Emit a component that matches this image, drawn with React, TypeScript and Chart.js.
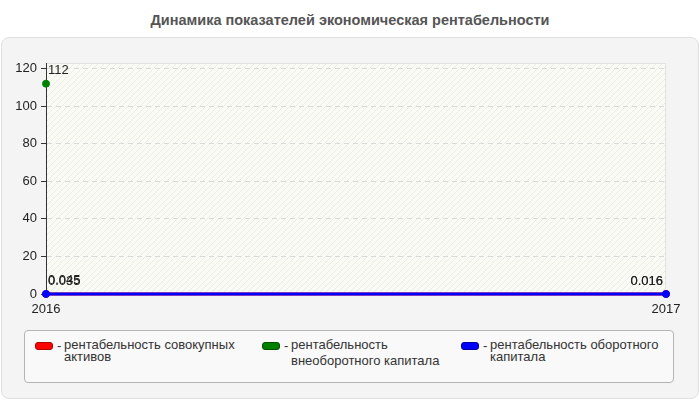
import React, { useEffect, useRef } from "react";
import { Chart, registerables, Plugin } from "chart.js";

Chart.register(...registerables);

// chart values
const years = ["2016", "2017"];
const totalAssets = [0.035, 0.016];
const fixedCapital = [112, null];
const workingCapital = [0.045, 0.016];
const yTicks = [0, 20, 40, 60, 80, 100, 120];

const legendItems = [
  { color: "#ff0000", border: "#b00000", lines: ["рентабельность совокупных", "активов"], left: 35, gap: 12 },
  { color: "#008000", border: "#005000", lines: ["рентабельность", "внеоборотного капитала"], left: 262, gap: 16 },
  { color: "#0000ff", border: "#0000a0", lines: ["рентабельность оборотного", "капитала"], left: 461, gap: 12 },
];

const FONT = "'Liberation Sans', Arial, sans-serif";

// hatched plot background
const plotBackground: Plugin = {
  id: "plotBackground",
  beforeDraw(chart) {
    const { ctx, chartArea: a } = chart;
    ctx.save();
    ctx.fillStyle = "#fbfbf6";
    ctx.fillRect(a.left, a.top, a.right - a.left, a.bottom - a.top);
    const tile = document.createElement("canvas");
    tile.width = 6;
    tile.height = 6;
    const t = tile.getContext("2d");
    if (t) {
      t.strokeStyle = "rgba(0,0,0,0.06)";
      t.lineWidth = 1;
      t.beginPath();
      t.moveTo(0, 6);
      t.lineTo(6, 0);
      t.moveTo(-1, 1);
      t.lineTo(1, -1);
      t.moveTo(5, 7);
      t.lineTo(7, 5);
      t.stroke();
      const pattern = ctx.createPattern(tile, "repeat");
      if (pattern) {
        ctx.fillStyle = pattern;
        ctx.fillRect(a.left, a.top, a.right - a.left, a.bottom - a.top);
      }
    }
    ctx.strokeStyle = "#e2e2e2";
    ctx.lineWidth = 1;
    ctx.strokeRect(a.left + 0.5, a.top + 0.5, a.right - a.left - 1, a.bottom - a.top);
    ctx.restore();
  },
};

// value labels next to each point
const pointLabels: Plugin = {
  id: "pointLabels",
  afterDatasetsDraw(chart) {
    const { ctx } = chart;
    ctx.save();
    ctx.font = `13px ${FONT}`;
    ctx.fillStyle = "#222";
    ctx.textBaseline = "middle";
    chart.data.datasets.forEach((ds, di) => {
      const meta = chart.getDatasetMeta(di);
      meta.data.forEach((pt, i) => {
        const v = ds.data[i] as number | null;
        if (v === null || v === undefined) return;
        const last = i === meta.data.length - 1;
        ctx.textAlign = last ? "right" : "left";
        ctx.fillText(String(v), pt.x + (last ? -3 : 2), pt.y - 13);
      });
    });
    ctx.restore();
  },
};

const App: React.FC = () => {
  const canvasRef = useRef<HTMLCanvasElement>(null);
  const chartRef = useRef<Chart | null>(null);

  useEffect(() => {
    document.body.style.margin = "0";
    if (!canvasRef.current) return;
    if (chartRef.current) chartRef.current.destroy();

    const line = (label: string, data: (number | null)[], color: string, order: number) => ({
      label,
      data,
      borderColor: color,
      backgroundColor: color,
      borderWidth: 3,
      pointRadius: 3.5,
      pointBorderWidth: 1,
      clip: false as const,
      order,
    });

    chartRef.current = new Chart(canvasRef.current, {
      type: "line",
      data: {
        labels: years,
        datasets: [
          line("рентабельность совокупных активов", totalAssets, "#ff0000", 3),
          line("рентабельность внеоборотного капитала", fixedCapital, "#008000", 2),
          line("рентабельность оборотного капитала", workingCapital, "#0000ff", 1),
        ],
      },
      options: {
        responsive: false,
        animation: false,
        layout: { padding: { top: 63, right: 34, left: 0, bottom: 0 } },
        plugins: {
          legend: { display: false },
          tooltip: { enabled: false },
        },
        scales: {
          x: {
            offset: false,
            grid: { display: false, drawOnChartArea: false, tickLength: 5, tickColor: "#333" },
            border: { display: false },
            ticks: { color: "#222", font: { family: FONT, size: 13 }, padding: 3, maxRotation: 0 },
            afterFit(scale) {
              scale.height = 106;
            },
          },
          y: {
            min: 0,
            max: 123,
            afterBuildTicks(scale) {
              scale.ticks = yTicks.map((v) => ({ value: v }));
            },
            afterFit(scale) {
              scale.width = 46;
            },
            grid: { color: "#d9d9d9", tickColor: "#333", tickLength: 5 },
            border: { display: true, color: "#333", width: 1, dash: [5, 4] },
            ticks: { color: "#222", font: { family: FONT, size: 13 }, padding: 4 },
          },
        },
      },
      plugins: [plotBackground, pointLabels],
    });

    return () => {
      if (chartRef.current) {
        chartRef.current.destroy();
        chartRef.current = null;
      }
    };
  }, []);

  return (
    <div style={{ position: "fixed", left: 0, top: 0, width: 700, height: 400, overflow: "hidden", background: "#fff", fontFamily: FONT }}>
      <div
        style={{
          position: "absolute",
          left: 1,
          top: 37,
          width: 696,
          height: 360,
          border: "1px solid #e0e0e0",
          borderRadius: 8,
          background: "#f4f4f4",
        }}
      />
      <div
        style={{
          position: "absolute",
          left: 0,
          top: 12,
          width: 700,
          textAlign: "center",
          fontWeight: "bold",
          fontSize: 14.5,
          color: "#555",
        }}
      >
        Динамика показателей экономическая рентабельности
      </div>
      <canvas ref={canvasRef} width={700} height={400} style={{ position: "absolute", left: 0, top: 0 }} />
      <div
        style={{
          position: "absolute",
          left: 24,
          top: 330,
          width: 648,
          height: 51,
          border: "1px solid #b4b4b4",
          borderRadius: 4,
          background: "#f9f9f9",
        }}
      />
      {legendItems.map((item) => (
        <div key={item.left} style={{ position: "absolute", left: item.left, top: 339, fontSize: 13, color: "#333" }}>
          <div
            style={{
              position: "absolute",
              left: 0,
              top: 3,
              width: 16,
              height: 6,
              background: item.color,
              border: `1px solid ${item.border}`,
              borderRadius: 3,
            }}
          />
          <div style={{ position: "absolute", left: 22, top: 0, whiteSpace: "nowrap", lineHeight: "13px" }}>-</div>
          <div style={{ position: "absolute", left: 29, top: 0, whiteSpace: "nowrap", lineHeight: "12px" }}>
            <div>{item.lines[0]}</div>
            <div style={{ marginTop: item.gap - 12 }}>{item.lines[1]}</div>
          </div>
        </div>
      ))}
    </div>
  );
};

export default App;
